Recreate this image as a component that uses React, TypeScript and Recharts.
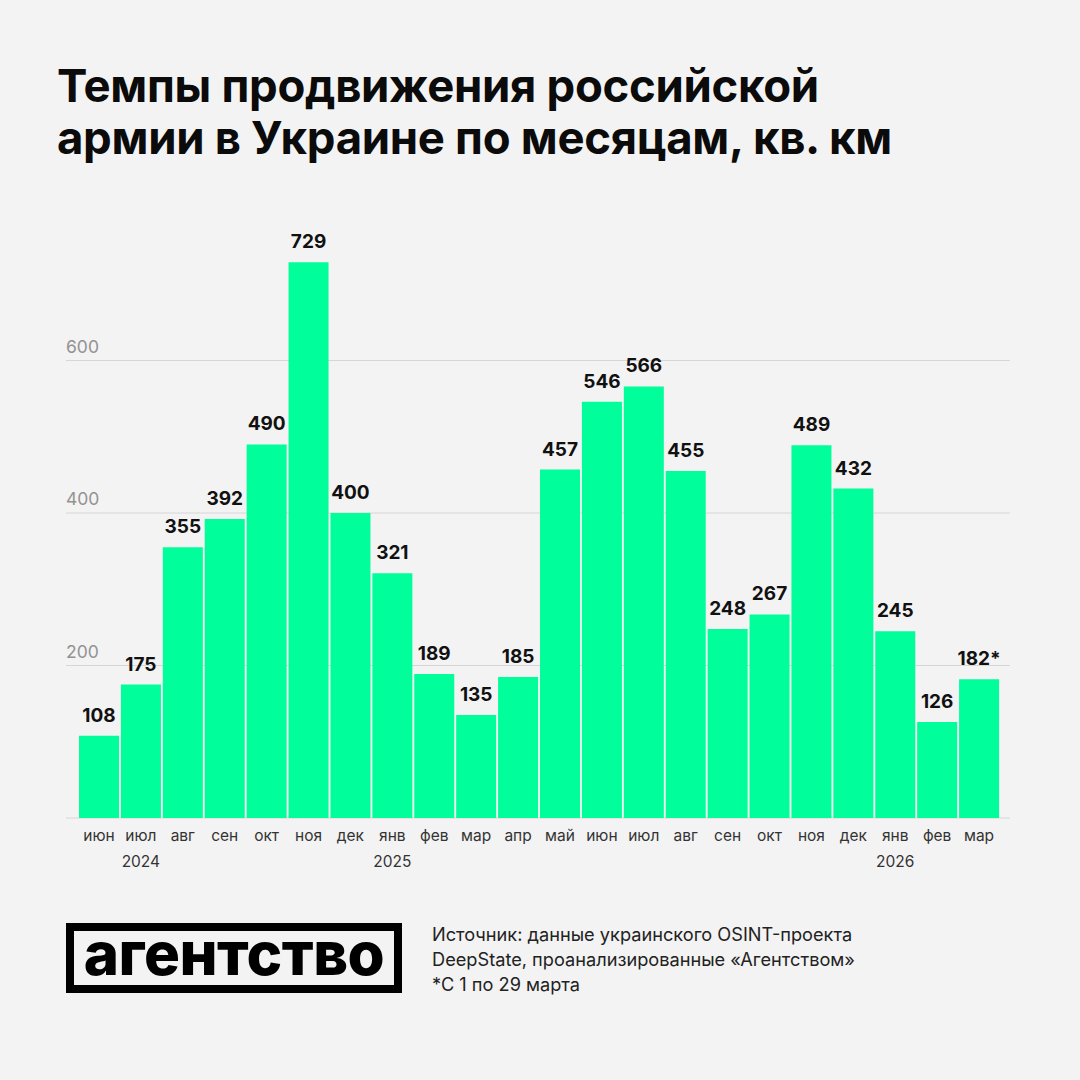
import React from 'react';
import { BarChart, Bar, XAxis, YAxis, CartesianGrid, LabelList } from 'recharts';

const months = ['июн', 'июл', 'авг', 'сен', 'окт', 'ноя', 'дек', 'янв', 'фев', 'мар', 'апр', 'май', 'июн', 'июл', 'авг', 'сен', 'окт', 'ноя', 'дек', 'янв', 'фев', 'мар'];
const years = ['', '2024', '', '', '', '', '', '2025', '', '', '', '', '', '', '', '', '', '', '', '2026', '', ''];
const area = [108, 175, 355, 392, 490, 729, 400, 321, 189, 135, 185, 457, 546, 566, 455, 248, 267, 489, 432, 245, 126, 182];
const valueLabels = ['108', '175', '355', '392', '490', '729', '400', '321', '189', '135', '185', '457', '546', '566', '455', '248', '267', '489', '432', '245', '126', '182*'];
const yTicks = [0, 200, 400, 600];

const data = months.map((m, i) => ({ key: i, month: m, year: years[i], value: area[i], label: valueLabels[i] }));

const GREEN = '#00FE9A';
const FONT = 'Inter, "Noto Sans", sans-serif';

function MonthTick(props: any) {
  const { x, y, payload } = props;
  const d = data[payload.value];
  return (
    <g>
      <text x={x} y={y + 15} textAnchor="middle" fontSize={15.5} fill="#333" fontFamily={FONT}>
        {d.month}
      </text>
      {d.year && (
        <text x={x} y={y + 41} textAnchor="middle" fontSize={15.5} fill="#333" fontFamily={FONT}>
          {d.year}
        </text>
      )}
    </g>
  );
}

function ValueTick(props: any) {
  const { y, payload } = props;
  if (!payload || payload.value === 0) return <g />;
  return (
    <text x={66} y={y - 8} fontSize={17.5} fill="#929292" fontFamily={FONT}>
      {payload.value}
    </text>
  );
}

function TopLabel(props: any) {
  const { x, y, width, value } = props;
  return (
    <text x={x + width / 2} y={y - 14} textAnchor="middle" fontSize={19} fontWeight={700} fill="#111" fontFamily={FONT}>
      {value}
    </text>
  );
}

export default function App() {
  return (
    <div style={{ position: 'absolute', left: 0, top: 0, width: 1080, height: 1080, background: '#F3F3F3', fontFamily: FONT, overflow: 'hidden' }}>
      <div style={{ position: 'absolute', left: 57, top: 60, fontSize: 45.5, fontWeight: 700, lineHeight: '52px', color: '#0b0b0b', letterSpacing: -0.3 }}>
        Темпы продвижения российской
        <br />
        армии в Украине по месяцам, кв. км
      </div>

      <div style={{ position: 'absolute', left: 0, top: 0 }}>
        <BarChart width={1080} height={900} data={data} margin={{ top: 208, right: 70, bottom: 0, left: 65 }}>
          <CartesianGrid vertical={false} stroke="#D6D6D6" horizontalValues={yTicks} />
          <YAxis width={1} domain={[0, 800]} ticks={yTicks} interval={0} axisLine={false} tickLine={false} tick={(p: any) => <ValueTick {...p} />} />
          <XAxis dataKey="key" height={82} padding={{ left: 12, right: 10 }} axisLine={false} tickLine={false} tick={<MonthTick />} interval={0} />
          <Bar dataKey="value" fill={GREEN} barSize={40} isAnimationActive={false}>
            <LabelList dataKey="label" content={<TopLabel />} />
          </Bar>
        </BarChart>
      </div>

      <div style={{ position: 'absolute', left: 66, top: 923, width: 320, height: 54, border: '8px solid #000', display: 'flex', alignItems: 'center', justifyContent: 'center' }}>
        <span style={{ fontSize: 60, fontWeight: 800, letterSpacing: -0.5, lineHeight: '54px', marginTop: -10, color: '#000' }}>агентство</span>
      </div>

      <div style={{ position: 'absolute', left: 432, top: 922, fontSize: 18.2, lineHeight: '25px', color: '#222' }}>
        Источник: данные украинского OSINT-проекта
        <br />
        DeepState, проанализированные «Агентством»
        <br />
        *С 1 по 29 марта
      </div>
    </div>
  );
}
